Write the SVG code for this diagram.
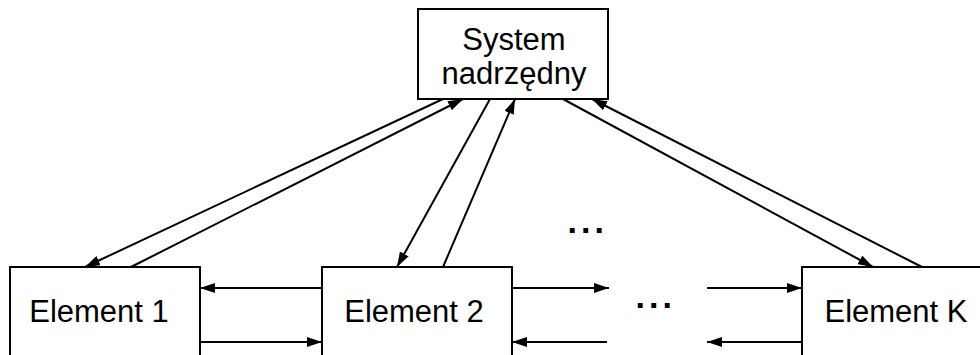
<svg xmlns="http://www.w3.org/2000/svg" width="980" height="355" viewBox="0 0 980 355">
<defs>
<style>
.box{fill:#fff;stroke:#000;stroke-width:2}
.lbl{font-family:"Liberation Sans",Arial,sans-serif;font-size:31px;fill:#000;text-anchor:middle}
.dots{font-family:"Liberation Sans",Arial,sans-serif;font-size:34px;font-weight:bold;fill:#000;letter-spacing:4px}
.c{fill:none;stroke:#000;stroke-width:2;marker-end:url(#ah)}
</style>
<marker id="ah" viewBox="0 0 15 10" refX="15" refY="5" markerWidth="15" markerHeight="10" markerUnits="userSpaceOnUse" orient="auto">
<path d="M0,0 L15,5 L0,10 z" fill="#000"/>
</marker>
</defs>
<rect width="980" height="355" fill="#fff"/>
<g id="connectors">
<line class="c" x1="443" y1="99" x2="85" y2="267"/>
<line class="c" x1="131" y1="267" x2="463" y2="99"/>
<line class="c" x1="490" y1="99" x2="397" y2="267"/>
<line class="c" x1="443" y1="267" x2="515" y2="99"/>
<line class="c" x1="563" y1="99" x2="873" y2="267"/>
<line class="c" x1="922" y1="267" x2="592" y2="99"/>
<line class="c" x1="322" y1="288" x2="200" y2="288"/>
<line class="c" x1="200" y1="342" x2="322" y2="342"/>
<line class="c" x1="512" y1="288" x2="609" y2="288"/>
<line class="c" x1="607" y1="342" x2="512" y2="342"/>
<line class="c" x1="707" y1="288" x2="802" y2="288"/>
<line class="c" x1="802" y1="342" x2="707" y2="342"/>
</g>
<g id="system">
<rect class="box" x="418" y="9" width="190" height="90"/>
<text class="lbl" x="514" y="50">System</text>
<text class="lbl" x="514" y="83.5">nadrzędny</text>
</g>
<g id="element1">
<rect class="box" x="10" y="267" width="190" height="92"/>
<text class="lbl" x="99" y="322">Element 1</text>
</g>
<g id="element2">
<rect class="box" x="322" y="267" width="190" height="92"/>
<text class="lbl" x="414" y="322">Element 2</text>
</g>
<g id="elementK">
<rect class="box" x="802" y="267" width="190" height="92"/>
<text class="lbl" x="896" y="322">Element K</text>
</g>
<g id="dots">
<text class="dots" x="567.5" y="232.5">...</text>
<text class="dots" x="635.5" y="308">...</text>
</g>
</svg>
